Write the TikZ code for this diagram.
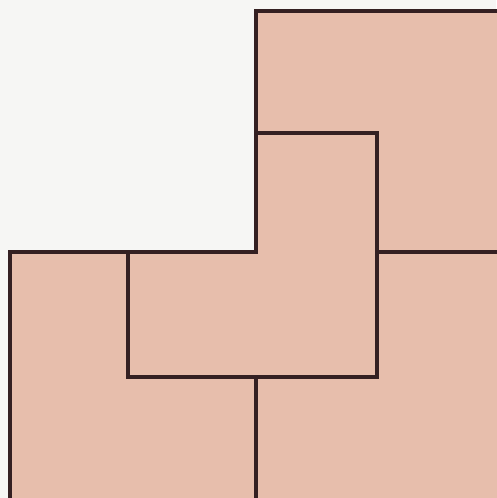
\documentclass[tikz,border=0pt]{standalone}
\definecolor{tile}{RGB}{231,190,172}
\definecolor{edge}{RGB}{52,32,34}
\definecolor{paper}{RGB}{246,246,244}
\tikzset{cut/.style={draw=edge,line width=3.2pt,line cap=square,line join=miter}}
\begin{document}
\begin{tikzpicture}[x=1pt,y=-1pt]
\fill[paper] (0,0) rectangle (496,498);
\useasboundingbox (0,0) rectangle (496,498);
% outer L region
\fill[tile] (256,11) -- (500,11) -- (500,502) -- (10,502) -- (10,252) -- (256,252) -- cycle;
% outer border
\draw[cut] (10,502) -- (10,252) -- (256,252) -- (256,11) -- (500,11);
% central L piece
\draw[cut] (128,252) -- (128,377) -- (377,377) -- (377,133) -- (256,133);
% remaining cuts
\draw[cut] (377,252) -- (500,252);
\draw[cut] (256,377) -- (256,502);
\end{tikzpicture}
\end{document}
